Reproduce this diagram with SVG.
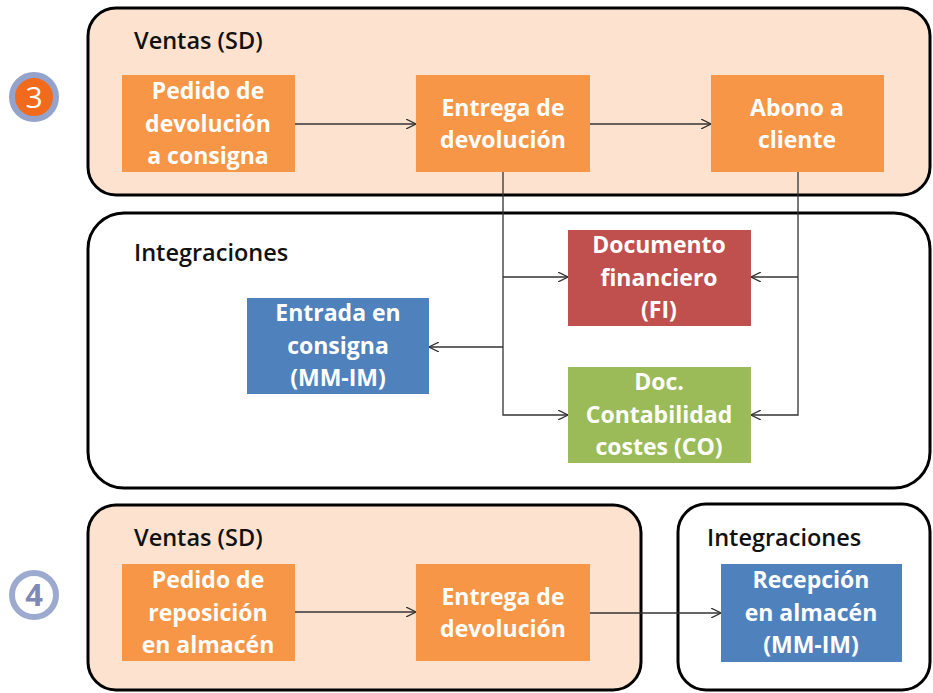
<svg xmlns="http://www.w3.org/2000/svg" width="933" height="693" viewBox="0 0 933 693">
<defs>
<marker id="arr" viewBox="0 0 10 10" refX="10" refY="5" markerWidth="10" markerHeight="10" markerUnits="userSpaceOnUse" orient="auto">
<path d="M0,0 L10,5 L0,10" fill="none" stroke="#333" stroke-width="1.3"/>
</marker>
<style>
.sd{fill:#FDE3CF;stroke:#000;stroke-width:3}
.ig{fill:#fff;stroke:#000;stroke-width:3}
.title{font-family:"Open Sans","Liberation Sans",sans-serif;font-size:23.5px;font-weight:600;fill:#111}
.node text{font-family:"Open Sans","Liberation Sans",sans-serif;font-size:23px;font-weight:700;fill:#fff;text-anchor:middle}
.or{fill:#F79646}
.red{fill:#C0504D}
.grn{fill:#9BBB59}
.blu{fill:#4F81BD}
.conn path{fill:none;stroke:#333;stroke-width:1.3}
</style>
</defs>
<rect width="933" height="693" fill="#fff"/>

<g id="badge3">
<circle cx="34" cy="97" r="22" fill="#F26B1D" stroke="#94A3CB" stroke-width="6"/>
<text x="34" y="108" font-family="Open Sans, Liberation Sans, sans-serif" font-size="30" fill="#fff" text-anchor="middle">3</text>
</g>
<g id="badge4">
<circle cx="34" cy="595" r="22" fill="#fff" stroke="#9DAAD0" stroke-width="6"/>
<text x="34" y="606" font-family="Open Sans, Liberation Sans, sans-serif" font-size="31" font-weight="700" fill="#7E8AB6" text-anchor="middle">4</text>
</g>

<g id="sd3">
<rect class="sd" x="88" y="8" width="842" height="187" rx="28"/>
<text class="title" x="134" y="49">Ventas (SD)</text>
</g>
<g id="ig3">
<rect class="ig" x="88" y="213" width="842" height="275" rx="36"/>
<text class="title" x="134" y="261">Integraciones</text>
</g>
<g id="sd4">
<rect class="sd" x="88" y="505" width="553" height="185" rx="28"/>
<text class="title" x="134" y="546">Ventas (SD)</text>
</g>
<g id="ig4">
<rect class="ig" x="678" y="504" width="252" height="186" rx="28"/>
<text class="title" x="707" y="546">Integraciones</text>
</g>

<g class="conn">
<path d="M295,124 H416" marker-end="url(#arr)"/>
<path d="M590,124 H711" marker-end="url(#arr)"/>
<path d="M503,172 V415 H568" marker-end="url(#arr)"/>
<path d="M503,277 H568" marker-end="url(#arr)"/>
<path d="M503,347 H429" marker-end="url(#arr)"/>
<path d="M798,172 V415 H751" marker-end="url(#arr)"/>
<path d="M798,277 H751" marker-end="url(#arr)"/>
<path d="M295,612 H416" marker-end="url(#arr)"/>
<path d="M590,613 H721" marker-end="url(#arr)"/>
</g>

<g id="pedido-devolucion" class="node">
<rect class="or" x="122" y="75" width="173" height="97"/>
<text x="208" y="99">Pedido de</text>
<text x="208" y="132">devolución</text>
<text x="208" y="164">a consigna</text>
</g>
<g id="entrega-devolucion" class="node">
<rect class="or" x="416" y="75" width="174" height="97"/>
<text x="503" y="116">Entrega de</text>
<text x="503" y="148">devolución</text>
</g>
<g id="abono-cliente" class="node">
<rect class="or" x="711" y="75" width="173" height="97"/>
<text x="797" y="116">Abono a</text>
<text x="797" y="148">cliente</text>
</g>
<g id="doc-financiero" class="node">
<rect class="red" x="568" y="230" width="183" height="96"/>
<text x="659" y="253">Documento</text>
<text x="659" y="286">financiero</text>
<text x="659" y="318">(FI)</text>
</g>
<g id="doc-costes" class="node">
<rect class="grn" x="568" y="367" width="183" height="96"/>
<text x="659" y="390">Doc.</text>
<text x="659" y="423">Contabilidad</text>
<text x="659" y="455">costes (CO)</text>
</g>
<g id="entrada-consigna" class="node">
<rect class="blu" x="247" y="298" width="182" height="96"/>
<text x="338" y="321">Entrada en</text>
<text x="338" y="354">consigna</text>
<text x="338" y="386">(MM-IM)</text>
</g>
<g id="pedido-reposicion" class="node">
<rect class="or" x="122" y="564" width="173" height="97"/>
<text x="208" y="588">Pedido de</text>
<text x="208" y="621">reposición</text>
<text x="208" y="653">en almacén</text>
</g>
<g id="entrega-devolucion-2" class="node">
<rect class="or" x="416" y="564" width="174" height="97"/>
<text x="503" y="605">Entrega de</text>
<text x="503" y="637">devolución</text>
</g>
<g id="recepcion-almacen" class="node">
<rect class="blu" x="721" y="564" width="181" height="98"/>
<text x="811" y="588">Recepción</text>
<text x="811" y="621">en almacén</text>
<text x="811" y="653">(MM-IM)</text>
</g>
</svg>
